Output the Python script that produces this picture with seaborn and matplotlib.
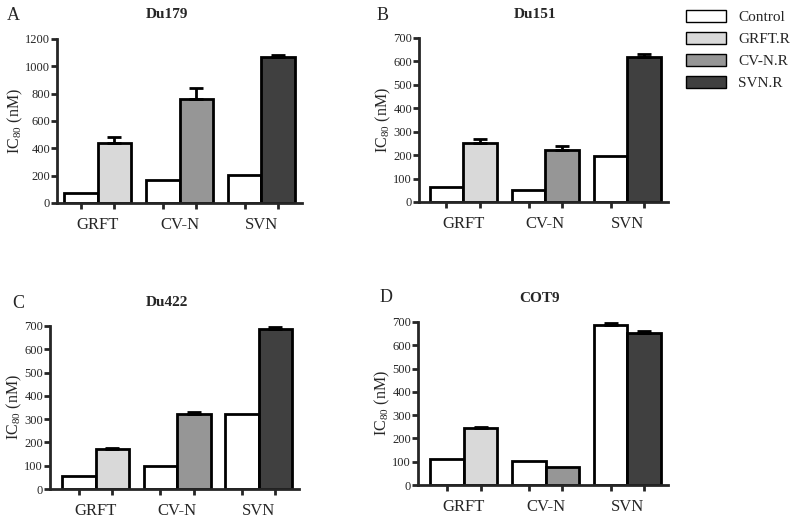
import numpy as np
import pandas as pd
import matplotlib
matplotlib.use('Agg')
import matplotlib.pyplot as plt
from matplotlib.patches import Patch
import seaborn as sns

# data (IC80, nM)
cats = ['GRFT', 'CV-N', 'SVN']
kinds = ['Control', 'Resistant']
legend_labels = ['Control', 'GRFT.R', 'CV-N.R', 'SVN.R']

titles = ['Du179', 'Du151', 'Du422', 'COT9']
letters = ['A', 'B', 'C', 'D']

control_du179 = [73, 168, 203]
resist_du179 = [440, 760, 1066]
control_err_du179 = [0, 0, 0]
resist_err_du179 = [44, 78, 17]

control_du151 = [62, 51, 195]
resist_du151 = [253, 222, 620]
control_err_du151 = [0, 0, 0]
resist_err_du151 = [15, 17, 10]

control_du422 = [54, 98, 321]
resist_du422 = [173, 322, 688]
control_err_du422 = [0, 0, 0]
resist_err_du422 = [3, 9, 7]

control_cot9 = [111, 104, 688]
resist_cot9 = [244, 78, 653]
control_err_cot9 = [0, 0, 6]
resist_err_cot9 = [3, 0, 9]

yticks = [np.arange(0, 1201, 200), np.arange(0, 701, 100),
          np.arange(0, 701, 100), np.arange(0, 701, 100)]

colors = ['white', '#d9d9d9', '#969696', '#404040']

sns.set_style('ticks')
plt.rcParams['font.family'] = ['Liberation Serif', 'DejaVu Serif']
plt.rcParams['mathtext.fontset'] = 'custom'
plt.rcParams['mathtext.rm'] = 'Liberation Serif'

W, H = 800, 521
fig = plt.figure(figsize=(W / 100, H / 100), dpi=100)

# axes boxes in pixels: left, right, top, bottom
boxes = [(57, 302, 39, 203), (419, 668, 38, 202),
         (50, 299, 326, 489), (418, 668, 322, 485)]
left_pad = [0.085, 0.13, 0.15, 0.15]
title_pos = [(167, 15), (535, 15), (167, 303), (540, 298)]
letter_pos = [(13, 15), (383, 15), (18, 303), (386, 298)]

panels = [
    (control_du179, resist_du179, control_err_du179, resist_err_du179),
    (control_du151, resist_du151, control_err_du151, resist_err_du151),
    (control_du422, resist_du422, control_err_du422, resist_err_du422),
    (control_cot9, resist_cot9, control_err_cot9, resist_err_cot9),
]

width = 0.82
for i, (ctrl, res, cerr, rerr) in enumerate(panels):
    l, r, t, b = boxes[i]
    ax = fig.add_axes([l / W, 1 - b / H, (r - l) / W, (b - t) / H])

    df = pd.DataFrame({
        'cat': cats * 2,
        'kind': ['Control'] * 3 + ['Resistant'] * 3,
        'value': ctrl + res,
    })
    sns.barplot(data=df, x='cat', y='value', hue='kind', order=cats,
                hue_order=kinds, palette=['white', 'white'], width=width,
                edgecolor='black', linewidth=2, legend=False, errorbar=None,
                ax=ax)

    # colour resistant bars by category
    for p, c in zip(ax.containers[1].patches, colors[1:]):
        p.set_facecolor(c)

    centers = []
    for cont, errs in zip(ax.containers, [cerr, rerr]):
        for p, e in zip(cont.patches, errs):
            xc = p.get_x() + p.get_width() / 2
            centers.append(xc)
            if e > 0:
                ax.errorbar(xc, p.get_height(), yerr=[[0], [e]], fmt='none',
                            ecolor='black', elinewidth=2, capsize=5,
                            capthick=2, zorder=1)

    ax.set_xlim(-width / 2 - left_pad[i], 2 + width / 2 + 0.085)
    ax.set_ylim(0, yticks[i][-1])
    ax.set_yticks(yticks[i])
    ax.set_xticks(range(3), labels=cats)
    ax.set_xticks(sorted(centers), minor=True)
    ax.tick_params(axis='x', which='major', length=0, pad=10, labelsize=12)
    ax.tick_params(axis='x', which='minor', length=4, width=2,
                   direction='out')
    ax.tick_params(axis='y', length=4, width=2, pad=1, labelsize=9)
    ax.set_xlabel('')
    ax.set_ylabel(r'IC$_{\mathrm{80}}$ (nM)', fontsize=11.5, labelpad=0)
    sns.despine(ax=ax)
    for s in ['left', 'bottom']:
        ax.spines[s].set_linewidth(2)

    tx, ty = title_pos[i]
    fig.text(tx / W, 1 - ty / H, titles[i], ha='center', va='center',
             fontsize=11, fontweight='bold')
    lx, ly = letter_pos[i]
    fig.text(lx / W, 1 - ly / H, letters[i], ha='center', va='center',
             fontsize=13)

handles = [Patch(facecolor=c, edgecolor='black', linewidth=1) for c in colors]
fig.legend(handles, legend_labels, loc='upper left',
           bbox_to_anchor=(686 / W, 1 - 10 / H), frameon=False, fontsize=11,
           handlelength=2.6, handleheight=0.85, handletextpad=0.8,
           labelspacing=0.5, borderpad=0, borderaxespad=0)

fig.savefig('out.png', dpi=100)
